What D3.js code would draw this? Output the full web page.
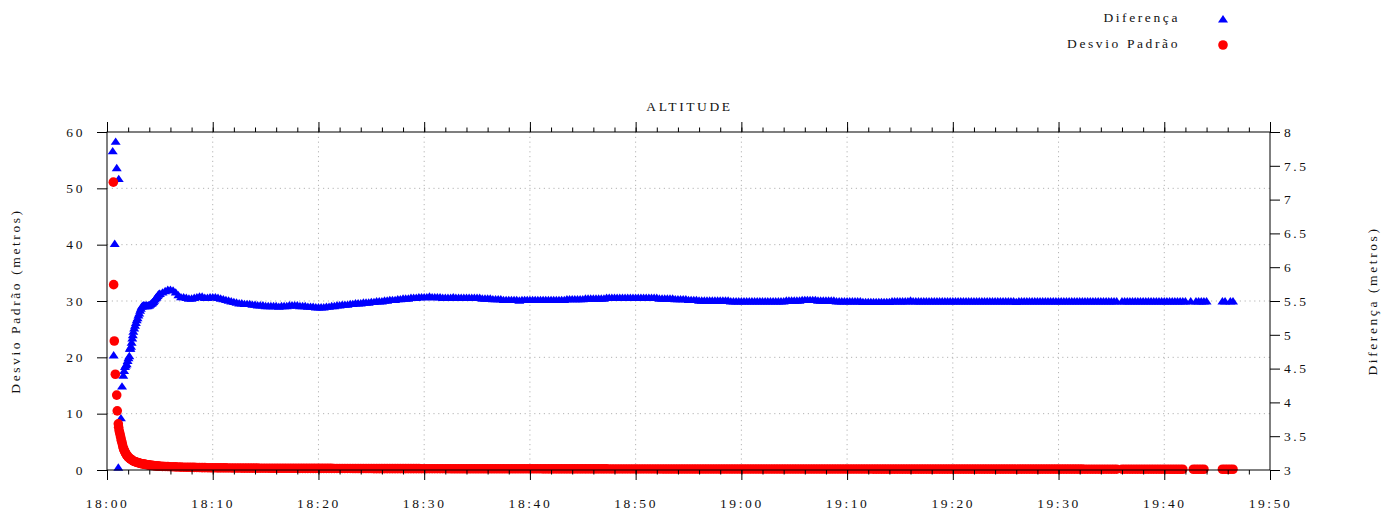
<!DOCTYPE html>
<html>
<head>
<meta charset="utf-8">
<script src="https://cdn.jsdelivr.net/npm/d3@7"></script>
<style>
  body { margin: 0; background: #fff; }
  svg text { font-family: "Liberation Serif", "DejaVu Serif", serif; font-size: 13.5px; letter-spacing: 2.6px; fill: #111; }
</style>
</head>
<body>
<svg id="chart"></svg>
<script>
// minutes after 18:00
const tickLabelsX = ["18:00","18:10","18:20","18:30","18:40","18:50","19:00","19:10","19:20","19:30","19:40","19:50"];
const ticksLeft = [0, 10, 20, 30, 40, 50, 60];
const ticksRight = [3, 3.5, 4, 4.5, 5, 5.5, 6, 6.5, 7, 7.5, 8];

// Diferença (right axis), first minutes: single readings
const difEarlyT = [0.54, 0.63, 0.73, 0.82, 0.92, 1.07, 1.11, 1.32, 1.42, 1.54, 1.62, 1.70, 1.78, 1.86, 1.95,
  2.03, 2.11, 2.15, 2.22, 2.27, 2.33, 2.39, 2.44, 2.49, 2.57, 2.65, 2.73, 2.81, 2.89, 2.97,
  3.05, 3.13, 3.20, 3.28, 3.36, 3.44, 3.52, 3.59, 3.67, 3.75, 3.83, 3.91, 3.99,
  4.07, 4.15, 4.23, 4.30, 4.38, 4.46, 4.54, 4.62, 4.70, 4.78, 4.86, 4.94];
const difEarly = [7.72, 4.70, 6.35, 7.86, 7.47, 3.04, 7.31, 3.77, 4.24, 4.40, 4.47, 4.53, 4.55, 4.57, 4.62,
  4.66, 4.69, 4.80, 4.80, 4.83, 4.89, 4.95, 5.00, 5.05, 5.10, 5.14, 5.18, 5.22, 5.25, 5.29,
  5.32, 5.36, 5.39, 5.42, 5.43, 5.44, 5.43, 5.44, 5.43, 5.44, 5.43, 5.44, 5.44,
  5.45, 5.46, 5.47, 5.48, 5.49, 5.51, 5.53, 5.55, 5.56, 5.58, 5.60, 5.61];

// Desvio Padrão (left axis), first minutes
const desvEarlyT = [0.60, 0.63, 0.69, 0.79, 0.92, 0.97, 1.07, 1.10, 1.15, 1.20, 1.25, 1.30, 1.35, 1.40, 1.45,
  1.50, 1.55, 1.60, 1.65, 1.70, 1.75, 1.80, 1.85, 1.90, 1.95, 2.00, 2.10, 2.20, 2.30, 2.40,
  2.50, 2.60, 2.70, 2.80, 2.90, 3.00, 3.10, 3.20, 3.30, 3.40, 3.50, 3.60, 3.70, 3.80, 3.90,
  4.00, 4.10, 4.20, 4.30, 4.40, 4.50, 4.60, 4.70, 4.80, 4.90];
const desvEarly = [51.1, 32.9, 22.9, 17.0, 13.3, 10.5, 8.2, 7.6, 7.0, 6.6, 6.2, 5.8, 5.3, 5.0, 4.6,
  4.2, 3.85, 3.6, 3.4, 3.2, 3.0, 2.85, 2.7, 2.55, 2.45, 2.3, 2.15, 2.0, 1.85, 1.72,
  1.6, 1.52, 1.45, 1.38, 1.32, 1.26, 1.21, 1.16, 1.11, 1.07, 1.04, 1.0, 0.97, 0.94, 0.91,
  0.88, 0.85, 0.82, 0.80, 0.78, 0.76, 0.74, 0.72, 0.70, 0.68];

// from 18:05 on, one reading every 15 s (null = no reading)
const bandStart = 5;
const bandStep = 0.25;
const difBand = [
  5.61, 5.63, 5.65, 5.67, 5.67, 5.66, 5.63, 5.59, 5.56, 5.56, 5.55, 5.54, 5.54, 5.55, 5.56, 5.57, 5.57, 5.55, 5.55, 5.56,
  5.56, 5.56, 5.55, 5.54, 5.53, 5.52, 5.51, 5.50, 5.49, 5.48, 5.47, 5.47, 5.46, 5.46, 5.46, 5.45, 5.45, 5.44, 5.44, 5.44,
  5.43, 5.43, 5.43, 5.43, 5.43, 5.42, 5.43, 5.43, 5.43, 5.44, 5.44, 5.44, 5.44, 5.43, 5.43, 5.43, 5.42, 5.42, 5.42, 5.41,
  5.41, 5.41, 5.41, 5.42, 5.42, 5.43, 5.43, 5.44, 5.44, 5.45, 5.45, 5.45, 5.46, 5.46, 5.47, 5.47, 5.47, 5.48, 5.48, 5.48,
  5.49, 5.49, 5.50, 5.50, 5.50, 5.51, 5.51, 5.52, 5.52, 5.52, 5.53, 5.53, 5.54, 5.54, 5.54, 5.55, 5.55, 5.55, 5.56, 5.56,
  5.56, 5.56, 5.57, 5.56, 5.56, 5.56, 5.56, 5.55, 5.55, 5.55, 5.55, 5.56, 5.55, 5.55, 5.55, 5.55, 5.55, 5.55, 5.55, 5.55,
  5.55, 5.55, 5.54, 5.54, 5.54, 5.54, 5.53, 5.53, 5.53, 5.53, 5.52, 5.52, 5.52, 5.52, 5.52, 5.52, 5.51, 5.52, 5.52, 5.52,
  5.52, 5.52, 5.52, 5.52, 5.52, 5.52, 5.52, 5.52, 5.52, 5.52, 5.52, 5.52, 5.52, 5.52, 5.53, 5.53, 5.53, 5.53, 5.53, 5.53,
  5.53, 5.54, 5.54, 5.54, 5.54, 5.54, 5.54, 5.54, 5.54, 5.55, 5.55, 5.55, 5.55, 5.55, 5.55, 5.55, 5.55, 5.55, 5.55, 5.55,
  5.55, 5.55, 5.55, 5.55, 5.55, 5.55, 5.55, 5.55, 5.55, 5.54, 5.54, 5.54, 5.54, 5.54, 5.54, 5.53, 5.53, 5.53, 5.53, 5.53,
  5.52, 5.52, 5.52, 5.52, 5.51, 5.51, 5.51, 5.51, 5.51, 5.51, 5.51, 5.51, 5.51, 5.51, 5.51, 5.51, 5.50, 5.50, 5.50, 5.50,
  5.50, 5.50, 5.50, 5.50, 5.50, 5.50, 5.50, 5.50, 5.50, 5.50, 5.50, 5.50, 5.50, 5.50, 5.50, 5.50, 5.50, 5.51, 5.51, 5.51,
  5.51, 5.51, 5.51, 5.52, 5.52, 5.52, 5.52, 5.52, 5.52, 5.51, 5.51, 5.51, 5.51, 5.51, 5.51, 5.51, 5.50, 5.50, 5.50, 5.50,
  5.50, 5.50, 5.50, 5.50, 5.50, 5.50, 5.49, 5.49, 5.49, 5.49, 5.49, 5.49, 5.49, 5.49, 5.49, 5.49, 5.49, 5.50, 5.50, 5.50,
  5.50, 5.50, 5.50, 5.50, 5.51, 5.50, 5.50, 5.50, 5.50, 5.50, 5.50, 5.50, 5.50, 5.50, 5.50, 5.50, 5.50, 5.50, 5.50, 5.50,
  5.50, 5.50, 5.50, 5.50, 5.50, 5.50, 5.50, 5.50, 5.50, 5.50, 5.50, 5.50, 5.50, 5.50, 5.50, 5.50, 5.50, 5.50, 5.50, 5.50,
  5.50, 5.50, 5.50, 5.50, 5.49, 5.50, 5.50, 5.50, 5.50, 5.50, 5.50, 5.50, 5.50, 5.50, 5.50, 5.50, 5.50, 5.50, 5.50, 5.50,
  5.50, 5.50, 5.50, 5.50, 5.50, 5.50, 5.50, 5.50, 5.50, 5.50, 5.50, 5.50, 5.50, 5.50, 5.50, 5.50, 5.50, 5.50, 5.50, 5.50,
  5.50, 5.50, 5.50, null, 5.50, 5.50, 5.50, 5.50, 5.50, 5.50, 5.50, 5.50, 5.50, 5.50, 5.50, 5.50, 5.50, 5.50, 5.50, 5.50,
  5.50, 5.50, 5.50, 5.50, 5.50, 5.50, 5.50, 5.50, 5.50, null, 5.50, null, 5.50, 5.50, 5.50, 5.50, 5.50, null, null, null,
  null, null, 5.50, 5.50, null, 5.50, 5.50
];
const desvBand = [
  0.67, 0.65, 0.63, 0.61, 0.59, 0.57, 0.55, 0.53, 0.51, 0.50, 0.49, 0.48, 0.47, 0.46, 0.45, 0.44, 0.43, 0.42, 0.41, 0.40,
  0.40, 0.39, 0.38, 0.38, 0.37, 0.37, 0.36, 0.36, 0.35, 0.35, 0.35, 0.34, 0.34, 0.34, 0.33, 0.33, 0.33, 0.33, 0.32, 0.32,
  0.32, 0.32, 0.31, 0.31, 0.31, 0.31, 0.31, 0.30, 0.30, 0.30, 0.30, 0.30, 0.30, 0.29, 0.29, 0.29, 0.29, 0.29, 0.29, 0.28,
  0.28, 0.28, 0.28, 0.28, 0.28, 0.28, 0.27, 0.27, 0.27, 0.27, 0.27, 0.27, 0.27, 0.26, 0.26, 0.26, 0.26, 0.26, 0.26, 0.26,
  0.26, 0.25, 0.25, 0.25, 0.25, 0.25, 0.25, 0.25, 0.25, 0.25, 0.24, 0.24, 0.24, 0.24, 0.24, 0.24, 0.24, 0.24, 0.24, 0.23,
  0.23, 0.23, 0.23, 0.23, 0.23, 0.23, 0.23, 0.23, 0.23, 0.23, 0.22, 0.22, 0.22, 0.22, 0.22, 0.22, 0.22, 0.22, 0.22, 0.22,
  0.22, 0.22, 0.22, 0.22, 0.22, 0.22, 0.22, 0.22, 0.22, 0.22, 0.21, 0.21, 0.21, 0.21, 0.21, 0.21, 0.21, 0.21, 0.21, 0.21,
  0.21, 0.21, 0.21, 0.21, 0.21, 0.20, 0.20, 0.20, 0.20, 0.20, 0.20, 0.20, 0.20, 0.20, 0.20, 0.20, 0.20, 0.20, 0.20, 0.20,
  0.20, 0.20, 0.20, 0.20, 0.20, 0.20, 0.20, 0.20, 0.20, 0.20, 0.19, 0.19, 0.19, 0.19, 0.19, 0.19, 0.19, 0.19, 0.19, 0.19,
  0.19, 0.19, 0.19, 0.19, 0.19, 0.19, 0.19, 0.19, 0.19, 0.19, 0.18, 0.18, 0.18, 0.18, 0.18, 0.18, 0.18, 0.18, 0.18, 0.18,
  0.18, 0.18, 0.18, 0.18, 0.18, 0.18, 0.18, 0.18, 0.18, 0.18, 0.18, 0.18, 0.18, 0.18, 0.18, 0.18, 0.18, 0.18, 0.18, 0.18,
  0.18, 0.18, 0.18, 0.18, 0.18, 0.18, 0.18, 0.18, 0.18, 0.18, 0.17, 0.17, 0.17, 0.17, 0.17, 0.17, 0.17, 0.17, 0.17, 0.17,
  0.17, 0.17, 0.17, 0.17, 0.17, 0.17, 0.17, 0.17, 0.17, 0.17, 0.17, 0.17, 0.17, 0.17, 0.17, 0.17, 0.17, 0.17, 0.17, 0.17,
  0.17, 0.17, 0.17, 0.17, 0.17, 0.17, 0.17, 0.17, 0.17, 0.17, 0.16, 0.16, 0.16, 0.16, 0.16, 0.16, 0.16, 0.16, 0.16, 0.16,
  0.16, 0.16, 0.16, 0.16, 0.16, 0.16, 0.16, 0.16, 0.16, 0.16, 0.16, 0.16, 0.16, 0.16, 0.16, 0.16, 0.16, 0.16, 0.16, 0.16,
  0.16, 0.16, 0.16, 0.16, 0.16, 0.16, 0.16, 0.16, 0.16, 0.16, 0.15, 0.15, 0.15, 0.15, 0.15, 0.15, 0.15, 0.15, 0.15, 0.15,
  0.15, 0.15, 0.15, 0.15, 0.15, 0.15, 0.15, 0.15, 0.15, 0.15, 0.15, 0.15, 0.15, 0.15, 0.15, 0.15, 0.15, 0.15, 0.15, 0.15,
  0.15, 0.15, 0.15, 0.15, 0.15, 0.15, 0.15, 0.15, 0.15, 0.15, 0.14, 0.14, 0.14, 0.14, 0.14, 0.14, 0.14, 0.14, 0.14, 0.14,
  0.14, 0.14, 0.14, null, 0.14, 0.14, 0.14, 0.14, 0.14, 0.14, 0.14, 0.14, 0.14, 0.14, 0.14, 0.14, 0.14, 0.14, 0.14, 0.14,
  0.14, 0.14, 0.13, 0.13, 0.13, 0.13, 0.13, 0.13, null, null, null, 0.13, 0.13, 0.13, 0.13, 0.13, null, null, null, null,
  null, null, 0.13, 0.13, 0.13, 0.13, 0.13
];

const W = 1397, H = 514;
const plot = { left: 107, right: 1270, top: 132, bottom: 470 };

const base = new Date(2016, 0, 1, 18, 0, 0);
const at = m => new Date(base.getTime() + m * 60000);

const svg = d3.select("#chart").attr("width", W).attr("height", H);

const x = d3.scaleTime().domain([at(0), at(110)]).range([plot.left, plot.right]);
const yL = d3.scaleLinear().domain([0, 60]).range([plot.bottom, plot.top]);
const yR = d3.scaleLinear().domain([3, 8]).range([plot.bottom, plot.top]);

// join early readings + regular band
function series(earlyT, early, band) {
  const pts = earlyT.map((t, i) => ({ t: t, v: early[i] }));
  band.forEach((v, i) => { if (v !== null) pts.push({ t: bandStart + i * bandStep, v: v }); });
  return pts;
}
const difPts = series(difEarlyT, difEarly, difBand);
const desvPts = series(desvEarlyT, desvEarly, desvBand);

// grid
const grid = svg.append("g").attr("stroke", "#b4b4b4").attr("stroke-width", 1).attr("stroke-dasharray", "1.2,3.6");
x.ticks(d3.timeMinute.every(10)).slice(1, -1).forEach(d => {
  grid.append("line").attr("x1", x(d)).attr("x2", x(d)).attr("y1", plot.top).attr("y2", plot.bottom);
});
ticksLeft.slice(1, -1).forEach(d => {
  grid.append("line").attr("x1", plot.left).attr("x2", plot.right).attr("y1", yL(d)).attr("y2", yL(d));
});

// markers
const triangle = "M0,-4L5,3.4L-5,3.4Z";
svg.append("g").attr("fill", "#0000ff")
  .selectAll("path").data(difPts).join("path")
    .attr("d", triangle)
    .attr("transform", d => `translate(${x(at(d.t))},${yR(d.v)})`);

svg.append("g").attr("fill", "#ff0000")
  .selectAll("circle").data(desvPts).join("circle")
    .attr("cx", d => x(at(d.t)))
    .attr("cy", d => yL(d.v))
    .attr("r", 4.8);

// axes
const fmt = d3.timeFormat("%H:%M");
function clean(g) {
  g.select(".domain").remove();
  g.selectAll("line").attr("stroke", "#000");
}
svg.append("g").attr("transform", `translate(0,${plot.bottom})`)
  .call(d3.axisBottom(x).ticks(d3.timeMinute.every(2)).tickFormat("").tickSize(4.5)).call(clean);
svg.append("g").attr("transform", `translate(0,${plot.bottom})`)
  .call(d3.axisBottom(x).ticks(d3.timeMinute.every(10)).tickFormat(d => tickLabelsX[Math.round((d - base) / 600000)] || fmt(d)).tickSize(10).tickPadding(18))
  .call(clean);
svg.append("g").attr("transform", `translate(0,${plot.top})`)
  .call(d3.axisTop(x).ticks(d3.timeMinute.every(2)).tickFormat("").tickSize(4.5)).call(clean);
svg.append("g").attr("transform", `translate(0,${plot.top})`)
  .call(d3.axisTop(x).ticks(d3.timeMinute.every(10)).tickFormat("").tickSize(10)).call(clean);
svg.append("g").attr("transform", `translate(${plot.left},0)`)
  .call(d3.axisLeft(yL).tickValues(ticksLeft).tickSize(10).tickPadding(12)).call(clean);
svg.append("g").attr("transform", `translate(${plot.right},0)`)
  .call(d3.axisRight(yR).tickValues(ticksRight).tickFormat(d => String(d)).tickSize(10).tickPadding(4)).call(clean);

svg.selectAll(".tick text").attr("font-family", null).attr("font-size", null).attr("fill", null);

// border on top of the points
svg.append("rect")
  .attr("x", plot.left).attr("y", plot.top)
  .attr("width", plot.right - plot.left).attr("height", plot.bottom - plot.top)
  .attr("fill", "none").attr("stroke", "#000").attr("stroke-width", 1);

// titles
svg.append("text").attr("x", (plot.left + plot.right) / 2 + 1).attr("y", 111).attr("text-anchor", "middle").text("ALTITUDE");
svg.append("text").attr("transform", "translate(20,301) rotate(-90)").attr("text-anchor", "middle").text("Desvio Padrão (metros)");
svg.append("text").attr("transform", "translate(1377,301) rotate(-90)").attr("text-anchor", "middle").text("Diferença (metros)");

// legend
const legend = svg.append("g");
legend.append("text").attr("x", 1180).attr("y", 22).attr("text-anchor", "end").text("Diferença");
legend.append("path").attr("d", triangle).attr("fill", "#0000ff").attr("transform", "translate(1223,19)");
legend.append("text").attr("x", 1180).attr("y", 48).attr("text-anchor", "end").text("Desvio Padrão");
legend.append("circle").attr("cx", 1223).attr("cy", 45).attr("r", 4.8).attr("fill", "#ff0000");
</script>
</body>
</html>
